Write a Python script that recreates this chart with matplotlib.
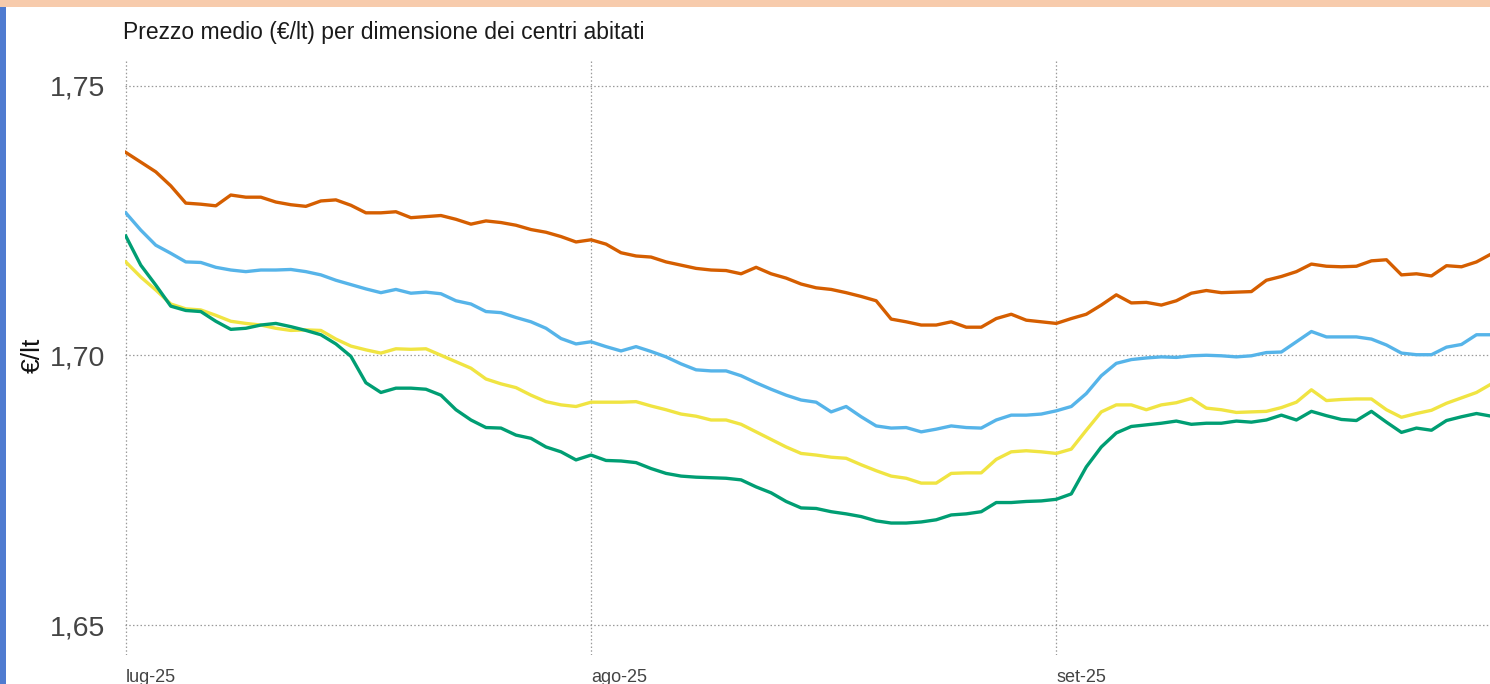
import matplotlib
matplotlib.use("Agg")
import matplotlib.pyplot as plt
import matplotlib.dates as mdates
import matplotlib.patches as patches
import pandas as pd

plt.rcParams['font.family'] = ['Liberation Sans', 'DejaVu Sans']

# daily average prices (€/lt), from 1 July 2025
giorni = pd.date_range('2025-07-01', periods=92, freq='D')

prezzo_arancio = [
    1.7376, 1.7358, 1.7340, 1.7314, 1.7282, 1.7280, 1.7277, 1.7297, 1.7293, 1.7293,
    1.7284, 1.7279, 1.7276, 1.7286, 1.7288, 1.7278, 1.7264, 1.7264, 1.7266, 1.7255,
    1.7257, 1.7259, 1.7252, 1.7243, 1.7249, 1.7246, 1.7241, 1.7233, 1.7228, 1.7220,
    1.7210, 1.7214, 1.7206, 1.7190, 1.7184, 1.7182, 1.7173, 1.7167, 1.7161, 1.7158,
    1.7157, 1.7151, 1.7163, 1.7151, 1.7143, 1.7132, 1.7125, 1.7122, 1.7116, 1.7109,
    1.7101, 1.7067, 1.7062, 1.7056, 1.7056, 1.7062, 1.7052, 1.7052, 1.7068, 1.7076,
    1.7065, 1.7062, 1.7059, 1.7068, 1.7076, 1.7093, 1.7112, 1.7097, 1.7098, 1.7093,
    1.7101, 1.7115, 1.7120, 1.7116, 1.7117, 1.7118, 1.7139, 1.7146, 1.7155, 1.7169,
    1.7165, 1.7164, 1.7165, 1.7175, 1.7177, 1.7149, 1.7151, 1.7147, 1.7166, 1.7164,
    1.7173, 1.7188,
]

prezzo_azzurro = [
    1.7264, 1.7232, 1.7204, 1.7189, 1.7173, 1.7172, 1.7163, 1.7158, 1.7155, 1.7158,
    1.7158, 1.7159, 1.7155, 1.7149, 1.7139, 1.7131, 1.7123, 1.7116, 1.7122, 1.7115,
    1.7117, 1.7114, 1.7101, 1.7095, 1.7081, 1.7079, 1.7070, 1.7062, 1.7050, 1.7031,
    1.7021, 1.7025, 1.7016, 1.7008, 1.7016, 1.7007, 1.6997, 1.6984, 1.6973, 1.6971,
    1.6971, 1.6962, 1.6949, 1.6937, 1.6926, 1.6917, 1.6913, 1.6895, 1.6905, 1.6886,
    1.6869, 1.6865, 1.6866, 1.6858, 1.6863, 1.6869, 1.6866, 1.6865, 1.6880, 1.6889,
    1.6889, 1.6891, 1.6897, 1.6905, 1.6929, 1.6962, 1.6985, 1.6992, 1.6995, 1.6997,
    1.6996, 1.6999, 1.7000, 1.6999, 1.6997, 1.6999, 1.7005, 1.7006, 1.7025, 1.7044,
    1.7034, 1.7034, 1.7034, 1.7030, 1.7019, 1.7004, 1.7001, 1.7001, 1.7015, 1.7020,
    1.7038, 1.7038,
]

prezzo_giallo = [
    1.7173, 1.7145, 1.7121, 1.7095, 1.7086, 1.7084, 1.7074, 1.7063, 1.7059, 1.7056,
    1.7050, 1.7046, 1.7047, 1.7046, 1.7030, 1.7017, 1.7010, 1.7004, 1.7012, 1.7011,
    1.7012, 1.7000, 1.6988, 1.6976, 1.6956, 1.6947, 1.6940, 1.6926, 1.6914, 1.6908,
    1.6905, 1.6913, 1.6913, 1.6913, 1.6914, 1.6906, 1.6899, 1.6891, 1.6887, 1.6880,
    1.6880, 1.6872, 1.6858, 1.6844, 1.6830, 1.6818, 1.6815, 1.6811, 1.6809, 1.6797,
    1.6786, 1.6776, 1.6772, 1.6763, 1.6763, 1.6781, 1.6782, 1.6782, 1.6807, 1.6821,
    1.6823, 1.6821, 1.6818, 1.6826, 1.6861, 1.6895, 1.6908, 1.6908, 1.6899, 1.6908,
    1.6912, 1.6920, 1.6902, 1.6899, 1.6894, 1.6895, 1.6896, 1.6903, 1.6913, 1.6936,
    1.6916, 1.6918, 1.6919, 1.6919, 1.6899, 1.6885, 1.6892, 1.6898, 1.6911, 1.6921,
    1.6931, 1.6947,
]

prezzo_verde = [
    1.7221, 1.7167, 1.7130, 1.7091, 1.7083, 1.7081, 1.7063, 1.7048, 1.7050, 1.7056,
    1.7059, 1.7053, 1.7046, 1.7038, 1.7021, 1.6998, 1.6949, 1.6931, 1.6939, 1.6939,
    1.6937, 1.6926, 1.6899, 1.6880, 1.6866, 1.6865, 1.6852, 1.6846, 1.6830, 1.6821,
    1.6806, 1.6815, 1.6805, 1.6804, 1.6801, 1.6790, 1.6781, 1.6776, 1.6774, 1.6773,
    1.6772, 1.6769, 1.6756, 1.6745, 1.6729, 1.6717, 1.6716, 1.6710, 1.6706, 1.6701,
    1.6693, 1.6689, 1.6689, 1.6691, 1.6695, 1.6704, 1.6706, 1.6710, 1.6727, 1.6727,
    1.6729, 1.6730, 1.6733, 1.6743, 1.6793, 1.6830, 1.6856, 1.6868, 1.6871, 1.6874,
    1.6878, 1.6872, 1.6874, 1.6874, 1.6878, 1.6876, 1.6880, 1.6889, 1.6880, 1.6896,
    1.6888, 1.6881, 1.6879, 1.6896, 1.6876, 1.6857, 1.6865, 1.6861, 1.6879, 1.6886,
    1.6892, 1.6887,
]

serie = [prezzo_arancio, prezzo_azzurro, prezzo_giallo, prezzo_verde]
colori = ['#D55E00', '#56B4E9', '#F0E442', '#009E73']

mesi = pd.to_datetime(['2025-07-01', '2025-08-01', '2025-09-01'])
etichette_mesi = ['lug-25', 'ago-25', 'set-25']
valori_y = [1.65, 1.70, 1.75]
etichette_y = ['1,65', '1,70', '1,75']

fig = plt.figure(figsize=(14.9, 6.84), dpi=100, facecolor='white')
ax = fig.add_axes([0.0839, 0.0424, 0.9161, 0.8699])

for valori, colore in zip(serie, colori):
    ax.plot(giorni, valori, color=colore, linewidth=2.4, solid_joinstyle='round')

x0 = mdates.date2num(pd.Timestamp('2025-07-01'))
ax.set_xlim(x0 - 0.05, x0 + 90.9)
ax.set_ylim(1.64444, 1.75473)

ax.set_xticks(mesi)
ax.set_xticklabels(etichette_mesi, ha='left', fontsize=13, color='#444444')
ax.set_yticks(valori_y)
ax.set_yticklabels(etichette_y, fontsize=20.5, color='#444444')
ax.tick_params(axis='both', length=0)
ax.tick_params(axis='x', pad=10)
ax.tick_params(axis='y', pad=14)

ax.grid(True, linestyle=(0, (1.2, 1.8)), color='#9a9a9a', linewidth=0.9)
for lato in ax.spines.values():
    lato.set_visible(False)

# axis title and chart title placed in figure coordinates
fig.text(33 / 1490, 1 - 355 / 684, '€/lt', rotation=90, fontsize=19,
         color='#111111', ha='center', va='center')
fig.text(0.0826, 0.953, 'Prezzo medio (€/lt) per dimensione dei centri abitati',
         fontsize=16.5, color='#1a1a1a', va='center', ha='left')

# frame bands along the top and left edges
fig.patches.append(patches.Rectangle((0, 1 - 7 / 684), 1, 7 / 684, transform=fig.transFigure,
                                     facecolor='#F7CBAC', edgecolor='none', zorder=5))
fig.patches.append(patches.Rectangle((0, 0), 6 / 1490, 1 - 7 / 684, transform=fig.transFigure,
                                     facecolor='#4F7BD0', edgecolor='none', zorder=5))

fig.savefig('out.png', dpi=100, facecolor='white')
